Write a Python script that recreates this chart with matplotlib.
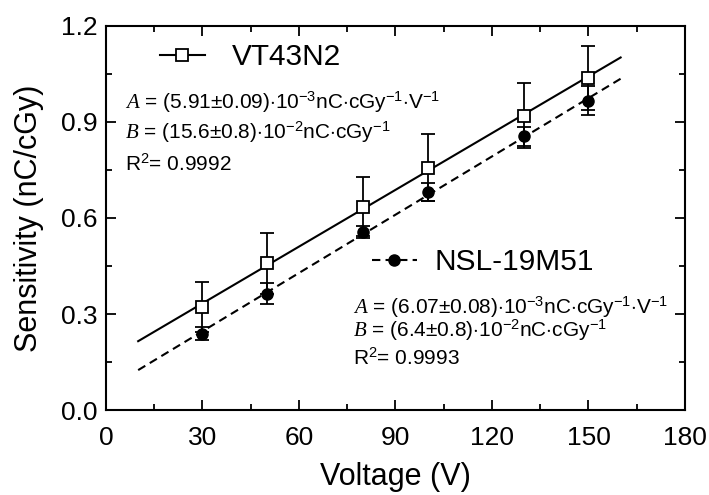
import matplotlib
matplotlib.use("Agg")
import matplotlib.pyplot as plt
from matplotlib.lines import Line2D
from matplotlib.ticker import MultipleLocator
import numpy as np

plt.rcParams['font.family'] = ['Liberation Sans', 'DejaVu Sans']
plt.rcParams['mathtext.fontset'] = 'custom'
plt.rcParams['mathtext.rm'] = 'Liberation Sans'
plt.rcParams['mathtext.it'] = 'Liberation Serif:italic'

# data
voltage = [30, 50, 80, 100, 130, 150]
vt43n2 = [0.321, 0.459, 0.635, 0.757, 0.920, 1.037]
vt43n2_err = [0.078, 0.095, 0.092, 0.104, 0.102, 0.101]
nsl19m51 = [0.239, 0.364, 0.556, 0.680, 0.855, 0.966]
nsl19m51_err = [0.020, 0.032, 0.020, 0.028, 0.030, 0.045]

# linear fits S = A*V + B from the annotations
fit_range = [10, 160]
vt_A, vt_B = 5.91e-3, 15.6e-2
nsl_A, nsl_B = 6.07e-3, 6.4e-2

vt_text = [r"$\mathit{A}$ = (5.91$\pm$0.09)$\cdot$10$^{-3}$nC$\cdot$cGy$^{-1}$$\cdot$V$^{-1}$",
           r"$\mathit{B}$ = (15.6$\pm$0.8)$\cdot$10$^{-2}$nC$\cdot$cGy$^{-1}$",
           r"R$^{2}$= 0.9992"]
nsl_text = [r"$\mathit{A}$ = (6.07$\pm$0.08)$\cdot$10$^{-3}$nC$\cdot$cGy$^{-1}$$\cdot$V$^{-1}$",
            r"$\mathit{B}$ = (6.4$\pm$0.8)$\cdot$10$^{-2}$nC$\cdot$cGy$^{-1}$",
            r"R$^{2}$= 0.9993"]

fig = plt.figure(figsize=(7.09, 4.95), dpi=100)
ax = fig.add_axes([0.1495, 0.1717, 0.8166, 0.7758])

fx = np.array(fit_range, dtype=float)
ax.plot(fx, vt_A * fx + vt_B, '-', color='black', lw=1.5)
ax.plot(fx, nsl_A * fx + nsl_B, '--', color='black', lw=1.5, dashes=(4, 2.5))

ax.errorbar(voltage, nsl19m51, yerr=nsl19m51_err, fmt='o', color='black',
            ms=8, capsize=5, elinewidth=1.3, capthick=1.3, zorder=3)
ax.errorbar(voltage, vt43n2, yerr=vt43n2_err, fmt='s', color='black',
            mfc='white', mew=1.3, ms=8.5, capsize=5, elinewidth=1.3,
            capthick=1.3, zorder=4)

ax.set_xlim(0, 180)
ax.set_ylim(0, 1.2)
ax.xaxis.set_major_locator(MultipleLocator(30))
ax.xaxis.set_minor_locator(MultipleLocator(15))
ax.yaxis.set_major_locator(MultipleLocator(0.3))
ax.yaxis.set_minor_locator(MultipleLocator(0.15))
ax.yaxis.set_major_formatter(plt.FuncFormatter(lambda v, p: f"{v:.1f}"))
ax.tick_params(which='both', direction='in', top=True, right=True, width=1.3)
ax.tick_params(which='major', length=7, labelsize=19)
ax.tick_params(axis='x', which='major', pad=11.5)
ax.tick_params(axis='y', which='major', pad=6)
ax.tick_params(which='minor', length=4.5)
for sp in ax.spines.values():
    sp.set_linewidth(1.5)

ax.set_xlabel("Voltage (V)", fontsize=22, labelpad=9)
ax.set_ylabel("Sensitivity (nC/cGy)", fontsize=22, labelpad=12)

h1 = Line2D([], [], color='black', lw=1.5, marker='s', mfc='white', mew=1.3, ms=8.5)
h2 = Line2D([], [], color='black', lw=1.5, ls='--', dashes=(4, 2.5), marker='o', ms=8)
leg1 = ax.legend([h1], ["VT43N2"], loc='center left', bbox_to_anchor=(0.093, 0.919),
                 frameon=False, fontsize=21.5, handlelength=1.5, handletextpad=0.9,
                 borderpad=0, borderaxespad=0)
ax.add_artist(leg1)
ax.legend([h2], ["NSL-19M51"], loc='center left', bbox_to_anchor=(0.459, 0.385),
          frameon=False, fontsize=21.5, handlelength=1.5, handletextpad=0.6,
          borderpad=0, borderaxespad=0)

for txt, yy in zip(vt_text, [0.80, 0.723, 0.64]):
    ax.text(0.033, yy, txt, transform=ax.transAxes, fontsize=15, va='center')
for txt, yy in zip(nsl_text, [0.268, 0.208, 0.135]):
    ax.text(0.427, yy, txt, transform=ax.transAxes, fontsize=15, va='center')

fig.savefig("out.png", dpi=100)
